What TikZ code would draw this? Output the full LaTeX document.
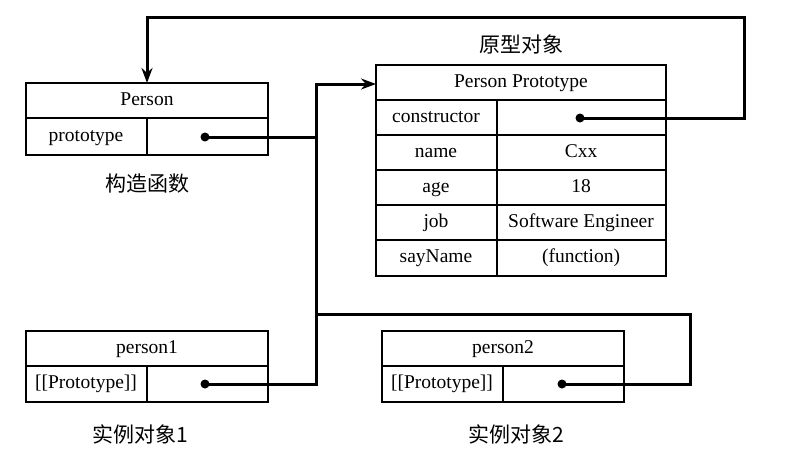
\documentclass[tikz,border=0pt]{standalone}
\usepackage{fontspec}
\setmainfont{Liberation Serif}
\newfontfamily\cjk{Noto Sans CJK SC}
\usetikzlibrary{arrows.meta}
\begin{document}
\begin{tikzpicture}[x=1pt,y=-1pt,
  box/.style={line width=1.3pt},
  txt/.style={font=\fontsize{19.5}{22}\selectfont,text height=13pt,text depth=4pt,inner sep=0pt},
  wire/.style={line width=3pt},
  tip/.style={-{Stealth[length=15pt,width=11pt]}},
  dotend/.style={circle,fill,inner sep=0pt,minimum size=9pt},
  lab/.style={font=\cjk\fontsize{21}{24}\selectfont}]
\useasboundingbox (0,0) rectangle (800,464);
% Person
\draw[box] (26,83) rectangle (268,155); \draw[box] (26,118)--(268,118); \draw[box] (147,118)--(147,155);
\node[txt] (pn) at (147,101) {Person};
\node[txt] at (86,137) {prototype};
\node[dotend] (pd) at (205,137) {};
\coordinate (ptop) at (147,83);
% Prototype
\draw[box] (376,65) rectangle (666,276);
\foreach \y in {100,135,170,205,240} \draw[box] (376,\y)--(666,\y);
\draw[box] (497,100)--(497,276);
\node[txt] at (521,83) {Person Prototype};
\coordinate (pin) at (376,84);
\foreach \y/\a/\b in {153/name/Cxx,188/age/18,223/job/Software Engineer,258/sayName/(function)}{
  \node[txt] at (436,\y) {\a};
  \node[txt] at (581,\y) {\b};}
\node[txt] at (436,118) {constructor};
\node[dotend] (cd) at (580,118) {};
% person1
\draw[box] (26,331) rectangle (268,402); \draw[box] (26,366)--(268,366); \draw[box] (147,366)--(147,402);
\node[txt] at (147,349) {person1};
\node[txt] at (86,384) {[[Prototype]]};
\node[dotend] (p1d) at (205,384) {};
% person2
\draw[box] (382,331) rectangle (624,402); \draw[box] (382,366)--(624,366); \draw[box] (503,366)--(503,402);
\node[txt] at (503,349) {person2};
\node[txt] at (442,384) {[[Prototype]]};
\node[dotend] (p2d) at (562,384) {};
% wires
\draw[wire] (pd.center) -- (316,137);
\draw[wire,tip] (p1d.center) -- (316,384) -- (316,84) -- (pin);
\draw[wire] (p2d.center) -- (690,384) -- (690,314) -- (316,314);
\draw[wire,tip] (cd.center) -- (744,118) -- (744,17) -- (147,17) -- (ptop);
% labels
\node[lab] at (521,44) {原型对象};
\node[lab] at (147,184) {构造函数};
\node[lab] at (140,434) {实例对象1};
\node[lab] at (516,434) {实例对象2};
\end{tikzpicture}
\end{document}
